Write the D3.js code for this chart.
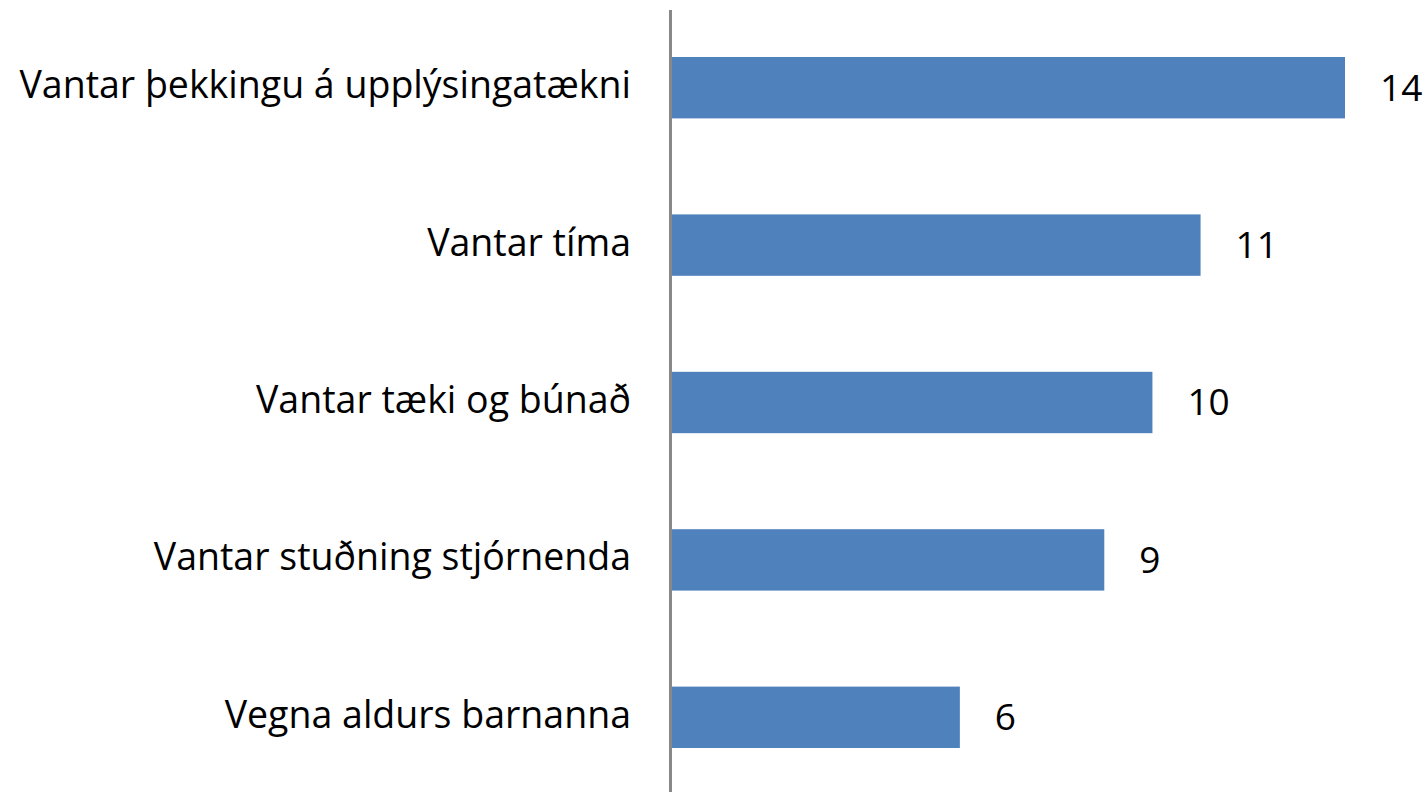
<!DOCTYPE html>
<html>
<head>
<meta charset="utf-8">
<script src="https://cdn.jsdelivr.net/npm/d3@7"></script>
<style>
  html, body { margin: 0; padding: 0; background: #fff; }
  svg text { font-family: "Open Sans", sans-serif; fill: #000; }
</style>
</head>
<body>
<div id="chart"></div>
<script>
// data
const categories = [
    "Vantar þekkingu á upplýsingatækni",
    "Vantar tíma",
    "Vantar tæki og búnað",
    "Vantar stuðning stjórnenda",
    "Vegna aldurs barnanna"
];
const values = [14, 11, 10, 9, 6];

const width = 1425;
const height = 792;

const svg = d3.select("#chart")
    .append("svg")
    .attr("width", width)
    .attr("height", height);

// scales
const x = d3.scaleLinear()
    .domain([0, 14])
    .range([671, 1345]);

const y = d3.scaleBand()
    .domain(categories)
    .range([9, 796])
    .paddingInner(0.61)
    .paddingOuter(0.305);

// bars
svg.selectAll("rect.bar")
    .data(values)
    .enter().append("rect")
    .attr("class", "bar")
    .attr("x", x(0))
    .attr("y", (d, i) => y(categories[i]))
    .attr("width", d => x(d) - x(0))
    .attr("height", y.bandwidth())
    .attr("fill", "#4f81bd");

// value labels
svg.selectAll("text.val")
    .data(values)
    .enter().append("text")
    .attr("class", "val")
    .attr("x", d => x(d) + 35)
    .attr("y", (d, i) => y(categories[i]) + y.bandwidth() / 2)
    .attr("dy", "0.35em")
    .style("font-size", "37px")
    .text(d => d);

// category axis (no ticks, just the line)
const yAxis = d3.axisLeft(y).tickSize(0).tickPadding(39);
const g = svg.append("g")
    .attr("transform", "translate(" + 670 + ",0)")
    .call(yAxis);
g.select(".domain").remove();
g.selectAll("text")
    .style("font-size", "37.5px")
    .attr("dy", "0.28em")
    .attr("font-family", null);

svg.append("line")
    .attr("x1", 670.5).attr("x2", 670.5)
    .attr("y1", 10).attr("y2", height)
    .attr("stroke", "#888")
    .attr("stroke-width", 3);
</script>
</body>
</html>
